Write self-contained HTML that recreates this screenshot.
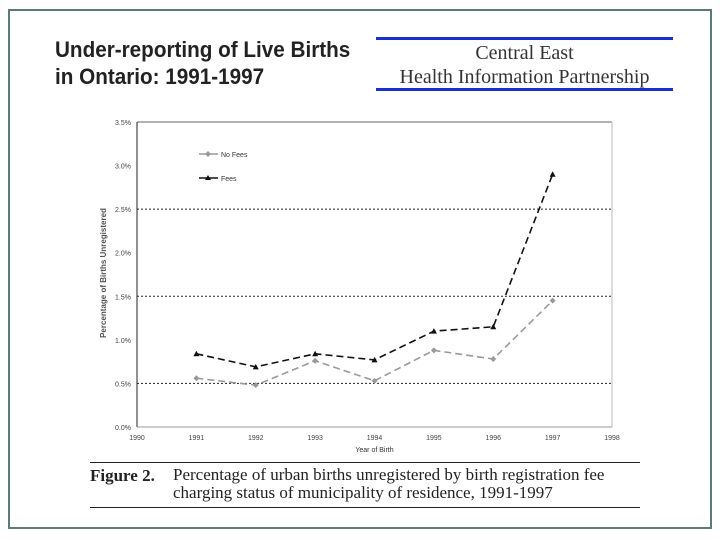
<!DOCTYPE html>
<html><head><meta charset="utf-8"><style>
body{margin:0;width:720px;height:540px;background:#fff;position:relative;overflow:hidden;font-family:"Liberation Sans",sans-serif}
.frame{position:absolute;left:8px;top:9px;width:700px;height:516px;border:2px solid #5b7a78}
.title{position:absolute;left:55px;top:36px;font-size:22px;font-weight:bold;color:#222;line-height:27px;transform:scaleX(.94);transform-origin:0 0;white-space:nowrap}
.logo{position:absolute;left:376px;top:37px;width:297px;height:47px;border-top:3px solid #1a2fd0;border-bottom:3px solid #1a2fd0;font-family:"Liberation Serif",serif;font-size:20px;color:#333;text-align:center;line-height:24px;padding-top:1px}
.cap{position:absolute;left:90px;top:462px;width:550px;height:44px;border-top:1px solid #222;border-bottom:1px solid #222;font-family:"Liberation Serif",serif;font-size:17px;color:#222}
</style></head><body>
<div class="frame"></div>
<div class="title">Under-reporting of Live Births<br>in Ontario: 1991-1997</div>
<div class="logo">Central East<br>Health Information Partnership</div>
<svg id="chart" width="720" height="540" style="position:absolute;left:0;top:0"></svg>
<div class="cap"><b style="position:absolute;left:0;top:3px">Figure 2.</b><span style="position:absolute;left:83px;top:3px;line-height:18px;white-space:nowrap">Percentage of urban births unregistered by birth registration fee<br>charging status of municipality of residence, 1991-1997</span></div>
<script>
const years=[1991,1992,1993,1994,1995,1996,1997];
const noFees=[0.56,0.48,0.76,0.53,0.88,0.78,1.45];
const fees=[0.84,0.69,0.84,0.77,1.10,1.15,2.90];
const yTicks=[0,0.5,1,1.5,2,2.5,3,3.5];
const xTicks=[1990,1991,1992,1993,1994,1995,1996,1997,1998];
const svg=document.getElementById('chart');
const NS='http://www.w3.org/2000/svg';
const x=v=>137+(v-1990)*(612-137)/8;
const y=v=>427-v*(427-122)/3.5;
function mk(t,a,p){const e=document.createElementNS(NS,t);for(const k in a)e.setAttribute(k,a[k]);(p||svg).appendChild(e);return e;}
yTicks.forEach(v=>{
 if(v>0&&v<3.5&&Math.round(v*10)%10==5){const l=mk('line',{x1:137,x2:612,y1:y(v),y2:y(v),stroke:'#222','stroke-dasharray':'2,2','stroke-width':1});

}
 const t=mk('text',{x:131,y:y(v)+3,'font-size':7,fill:'#444','text-anchor':'end'});t.textContent=v.toFixed(1)+'%';


});
const topLine=mk('line',{x1:137,x2:612,y1:y(3.5),y2:y(3.5),stroke:'#999','stroke-width':1.5});


const ya=mk('line',{x1:137,x2:137,y1:122,y2:427,stroke:'#222'});


const xa=mk('line',{x1:137,x2:612,y1:427,y2:427,stroke:'#999'});


const rb=mk('line',{x1:612,x2:612,y1:122,y2:427,stroke:'#bbb'});


xTicks.forEach(v=>{const t=mk('text',{x:x(v),y:440,'font-size':7,fill:'#444','text-anchor':'middle'});t.textContent=v;

});
const xt=mk('text',{x:x(1994),y:452,'font-size':7,fill:'#333','text-anchor':'middle'});xt.textContent='Year of Birth';


const yt=mk('text',{x:0,y:0,'font-size':8,'font-weight':'bold',fill:'#555','text-anchor':'middle',transform:'translate(106,273) rotate(-90)'});yt.textContent='Percentage of Births Unregistered';


function series(vals,col,name,tri){
 const p=mk('polyline',{points:vals.map((v,i)=>x(years[i])+','+y(v)).join(' '),fill:'none',stroke:col,'stroke-width':1.6,'stroke-dasharray':'7,4'});
 
 
 vals.forEach((v,i)=>{const cx=x(years[i]),cy=y(v);
  const m=tri?mk('polygon',{points:`${cx},${cy-3} ${cx-3},${cy+2.5} ${cx+3},${cy+2.5}`,fill:col}):mk('polygon',{points:`${cx},${cy-3} ${cx+3},${cy} ${cx},${cy+3} ${cx-3},${cy}`,fill:col});
  
  });
}
series(noFees,'#999','no-fees',false);
series(fees,'#111','fees',true);
[['No Fees','#999',154,false],['Fees','#111',178,true]].forEach(([lab,col,yy,tri])=>{
 const l=mk('line',{x1:199,x2:218,y1:yy,y2:yy,stroke:col,'stroke-width':1.5});
 
 
 const m=tri?mk('polygon',{points:`208,${yy-3} 205,${yy+2} 211,${yy+2}`,fill:col}):mk('polygon',{points:`208,${yy-3} 211,${yy} 208,${yy+3} 205,${yy}`,fill:col});
 
 
 const t=mk('text',{x:221,y:yy+3,'font-size':7,fill:'#333'});t.textContent=lab;
 
 
});
</script>
</body></html>
